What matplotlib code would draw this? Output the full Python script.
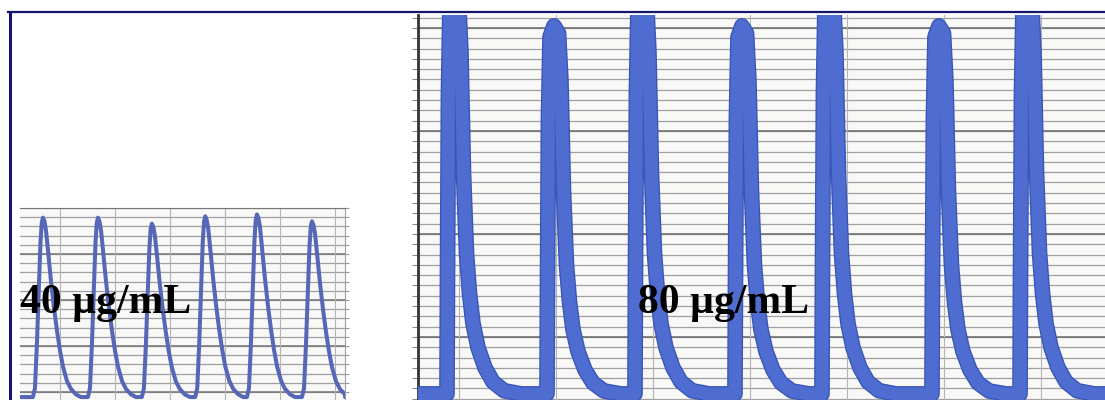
import numpy as np
import matplotlib
matplotlib.use("Agg")
import matplotlib.pyplot as plt
from matplotlib.lines import Line2D
import matplotlib.patheffects as pe

# ---- 40 ug/mL recording (time in divisions, tension in g) ----
peaks40_t = [-0.31, 0.69, 1.67, 2.64, 3.58, 4.58]
peaks40_h = [3.79, 3.79, 3.66, 3.82, 3.86, 3.71]
base40 = -0.11
# one contraction: offset from the apex (div) and fraction of amplitude
shape40_dx = [-0.182, -0.145, -0.109, -0.073, -0.045, -0.022, 0.0, 0.027, 0.055,
              0.091, 0.145, 0.20, 0.255, 0.309, 0.364, 0.436, 0.509, 0.60, 0.691]
shape40_f = [0.0, 0.05, 0.30, 0.62, 0.86, 0.97, 1.0, 0.98, 0.93,
             0.82, 0.65, 0.50, 0.37, 0.26, 0.17, 0.09, 0.045, 0.015, 0.0]

# ---- 80 ug/mL recording ----
onsets80 = [-0.124, 0.907, 1.814, 2.845, 3.742, 4.876, 5.784]
peaks80_h = [4.35, 4.02, 4.35, 4.02, 4.35, 4.02, 4.35]
base80 = 0.447
# one contraction: offset from onset (div) and fraction of amplitude
shape80_dx = [0.0, 0.005, 0.015, 0.031, 0.072, 0.119, 0.144, 0.170, 0.201,
              0.232, 0.268, 0.320, 0.392, 0.474, 0.588, 0.763]
shape80_f = [0.0, 0.30, 0.75, 0.97, 1.0, 0.98, 0.85, 0.55, 0.35,
             0.25, 0.175, 0.115, 0.065, 0.03, 0.008, 0.0]

labels = ["40 µg/mL", "80 µg/mL"]

W, H = 1105, 400


def px_box(x0, y0, x1, y1):
    return [x0 / W, 1 - y1 / H, (x1 - x0) / W, (y1 - y0) / H]


def build_trace(times, heights, base, sdx, sf, x0, x1):
    xs, ys = [x0], [base]
    for t, h in zip(times, heights):
        for dx, f in zip(sdx, sf):
            xs.append(t + dx)
            ys.append(base + f * (h - base))
    xs.append(x1)
    ys.append(base)
    return xs, ys


def chart_paper(ax, yminor, ymajor, xgrid, major_col, minor_col):
    ax.set_facecolor("#f8f8f7")
    for y in yminor:
        ax.axhline(y, color=minor_col, lw=0.9, zorder=0)
    for y in ymajor:
        ax.axhline(y, color=major_col, lw=1.1, zorder=0)
    for x in xgrid:
        ax.axvline(x, color="#b4b4b4", lw=0.8, zorder=0)
    ax.set_xticks([])
    ax.set_yticks([])


fig = plt.figure(figsize=(11.05, 4.0), dpi=100)
fig.patch.set_facecolor("white")

# left panel
ax_l = fig.add_axes(px_box(20, 208, 345, 400))
xl = (-0.727, 5.18)
chart_paper(ax_l, np.arange(-0.2, 4.01, 0.2), np.arange(0, 4.01, 1.0),
            range(0, 6), "#767676", "#a0a0a0")
x, y = build_trace(peaks40_t, peaks40_h, base40, shape40_dx, shape40_f, xl[0], xl[1])
ax_l.plot(x, y, color="#5667b8", lw=2.9, solid_joinstyle="round",
          solid_capstyle="round", zorder=3)
ax_l.set_xlim(*xl)
ax_l.set_ylim(-0.174, 4.0)
for s in ["left", "bottom"]:
    ax_l.spines[s].set_visible(False)
ax_l.spines["top"].set_color("#767676")
ax_l.spines["right"].set_color("#a0a0a0")
ax_l.yaxis.tick_right()
ax_l.set_yticks(np.arange(0, 4.01, 0.2))
ax_l.tick_params(axis="y", direction="out", length=3, color="#999999", labelright=False)

# right panel
ax_r = fig.add_axes(px_box(418, 15, 1105, 400))
xr = (-0.423, 6.66)
chart_paper(ax_r, np.arange(0.4, 4.15, 0.1), np.arange(1, 4.15, 1.0),
            range(0, 7), "#6a6a6a", "#a0a0a0")
x, y = build_trace(onsets80, peaks80_h, base80, shape80_dx, shape80_f, xr[0], xr[1])
ax_r.plot(x, y, color="#4f6dd0", lw=9.3, solid_joinstyle="round",
          solid_capstyle="round", zorder=3,
          path_effects=[pe.Stroke(linewidth=11.3, foreground="#3a56b8"), pe.Normal()])
ax_r.set_xlim(*xr)
ax_r.set_ylim(0.388, 4.126)
for s in ["top", "right", "bottom"]:
    ax_r.spines[s].set_visible(False)
ax_r.spines["left"].set_color("#333333")
ax_r.spines["left"].set_linewidth(2.0)
ax_r.set_yticks(np.arange(0.4, 4.15, 0.1))
ax_r.tick_params(axis="y", direction="out", length=4, color="#8a8a8a", labelleft=False)

# concentration labels
for lab, xp in zip(labels, [20, 638]):
    fig.text(xp / W, 1 - 313 / H, lab, family=["Liberation Serif", "DejaVu Serif"],
             weight="bold", fontsize=30, va="baseline", ha="left", color="black",
             zorder=10)

# outer frame
fig.add_artist(Line2D([8 / W, 1], [1 - 12 / H, 1 - 12 / H], color="#15156e", lw=1.6))
fig.add_artist(Line2D([9.5 / W, 9.5 / W], [0, 1 - 12 / H], color="#15156e", lw=2.2))

fig.savefig("out.png", dpi=100, facecolor="white")
